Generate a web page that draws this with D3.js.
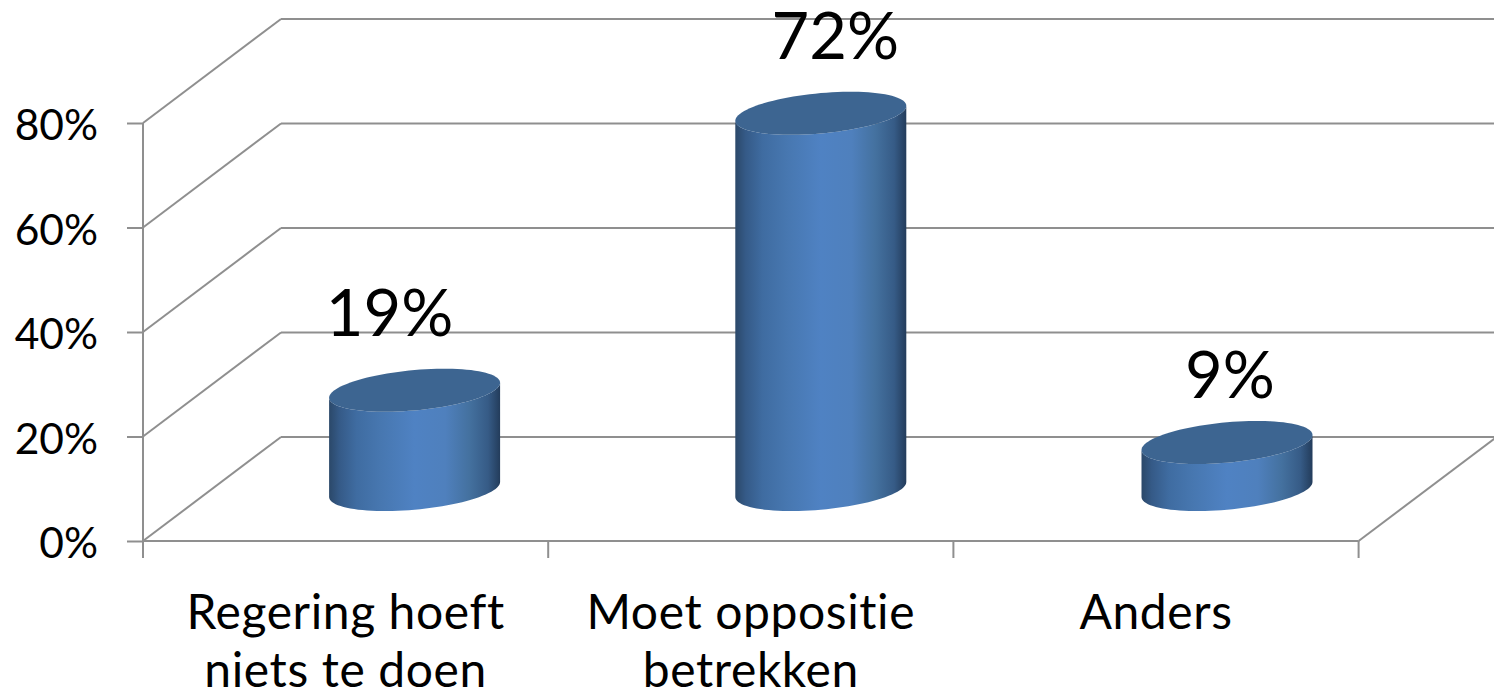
<!DOCTYPE html>
<html>
<head>
<meta charset="utf-8">
<script src="https://cdn.jsdelivr.net/npm/d3@7"></script>
<style>
  html, body { margin: 0; padding: 0; background: #fff; }
  text { font-family: Lato, "Open Sans", sans-serif; fill: #000; font-variant-ligatures: none; }
</style>
</head>
<body>
<div id="chart"></div>
<script>
var categories = [["Regering hoeft", "niets te doen"], ["Moet oppositie", "betrekken"], ["Anders"]];
var values = [19, 72, 9];
var valueLabels = ["19%", "72%", "9%"];
var yTicks = [0, 20, 40, 60, 80];

// data labels were moved by hand in the original
var labelShiftX = [-25, 14.5, 3];
var labelShiftY = [-54, -54, -44.5];

var w = 1494, h = 695;
var depthX = 138, depthY = -104;
var lineColor = "#8f8f8f";

var svg = d3.select("#chart").append("svg")
    .attr("width", w)
    .attr("height", h)
    .style("display", "block");

var x = d3.scaleBand().domain(d3.range(categories.length)).range([143, 1358.6]);
var y = d3.scaleLinear().domain([0, 80]).range([541, 123]);
// cylinders stand on the middle of the floor, spaced a little wider than the bands
var barX = d3.scaleLinear().domain([0, categories.length - 1]).range([414.6, 1227]);

// Gradient for the cylinder sides
var stops = [
    [0, "#2b4869"], [0.06, "#355a87"], [0.16, "#3f6ca1"], [0.3, "#4777b0"],
    [0.5, "#4f82c3"], [0.68, "#4f80bd"], [0.82, "#44719f"], [0.93, "#365b86"], [1, "#233c5b"]
];
svg.append("defs").append("linearGradient")
    .attr("id", "side")
    .attr("x1", 0).attr("x2", 1).attr("y1", 0).attr("y2", 0)
    .selectAll("stop")
    .data(stops)
    .enter()
    .append("stop")
    .attr("offset", function(d) { return d[0]; })
    .attr("stop-color", function(d) { return d[1]; });

// Back wall gridlines and left wall diagonals
var grid = svg.append("g").attr("stroke", lineColor).attr("stroke-width", 2).attr("fill", "none");

grid.selectAll(".back")
    .data(yTicks)
    .enter()
    .append("line")
    .attr("x1", x.range()[0] + depthX)
    .attr("x2", w)
    .attr("y1", function(d) { return y(d) + depthY; })
    .attr("y2", function(d) { return y(d) + depthY; });

grid.selectAll(".side")
    .data(yTicks)
    .enter()
    .append("line")
    .attr("x1", x.range()[0])
    .attr("x2", x.range()[0] + depthX)
    .attr("y1", function(d) { return y(d); })
    .attr("y2", function(d) { return y(d) + depthY; });

// floor, right edge
grid.append("line")
    .attr("x1", x.range()[1]).attr("x2", x.range()[1] + depthX)
    .attr("y1", y(0)).attr("y2", y(0) + depthY);

// x axis line and ticks on the category boundaries
grid.append("line")
    .attr("x1", x.range()[0]).attr("x2", x.range()[1])
    .attr("y1", y(0)).attr("y2", y(0));

grid.selectAll(".xtick")
    .data(d3.range(categories.length + 1))
    .enter()
    .append("line")
    .attr("x1", function(d) { return x.range()[0] + d * x.step(); })
    .attr("x2", function(d) { return x.range()[0] + d * x.step(); })
    .attr("y1", y(0))
    .attr("y2", y(0) + 17);

// y axis
var yAxis = svg.append("g")
    .attr("transform", "translate(" + x.range()[0] + ",0)")
    .call(d3.axisLeft(y).tickValues(yTicks).tickSize(16).tickPadding(29)
        .tickFormat(function(d) { return d + "%"; }));
yAxis.selectAll("line").attr("stroke", lineColor).attr("stroke-width", 2);
yAxis.select(".domain").remove();
yAxis.selectAll("text").style("font-size", "42.5px").attr("dy", "0.39em");
yAxis.append("line")
    .attr("y1", y(80)).attr("y2", y(0))
    .attr("stroke", lineColor).attr("stroke-width", 2);

// Cylinders
var rx = 85.5, tilt = -7.5, ry = 20.2;

function rim(cx, cy, t) {
    return [cx + rx * Math.cos(t), cy + tilt * Math.cos(t) + ry * Math.sin(t)];
}

function cylinderSide(cx, top, bottom) {
    // right edge -> along the lower half of the base -> left edge -> lower half of the top, backwards
    var base = d3.range(0, 49).map(function(i) { return rim(cx, bottom, i / 48 * Math.PI); });
    var cap = d3.range(48, -1, -1).map(function(i) { return rim(cx, top, i / 48 * Math.PI); });
    return d3.line()(base.concat(cap)) + "Z";
}

function cylinderTop(cx, top) {
    return d3.line()(d3.range(0, 96).map(function(i) { return rim(cx, top, i / 96 * 2 * Math.PI); })) + "Z";
}

function barY(d) { return y(d) + depthY / 2 + 0.5; }

var bars = svg.selectAll(".bar")
    .data(values)
    .enter()
    .append("g")
    .attr("class", "bar");

bars.append("path")
    .attr("fill", "url(#side)")
    .attr("d", function(d, i) { return cylinderSide(barX(i), barY(d), barY(0)); });

bars.append("path")
    .attr("fill", "#3d6591")
    .attr("d", function(d, i) { return cylinderTop(barX(i), barY(d)); });

// Data labels
svg.selectAll(".value")
    .data(values)
    .enter()
    .append("text")
    .attr("class", "value")
    .attr("text-anchor", "middle")
    .attr("x", function(d, i) { return barX(i) + labelShiftX[i]; })
    .attr("y", function(d, i) { return barY(d) + labelShiftY[i]; })
    .style("font-size", "65px")
    .text(function(d, i) { return valueLabels[i]; });

// Category labels
var cat = svg.selectAll(".cat")
    .data(categories)
    .enter()
    .append("text")
    .attr("class", "cat")
    .attr("text-anchor", "middle")
    .style("font-size", "48px")
    .style("letter-spacing", "0.6px");

cat.selectAll("tspan")
    .data(function(d, i) { return d.map(function(t) { return { t: t, i: i }; }); })
    .enter()
    .append("tspan")
    .attr("x", function(d) { return x(d.i) + x.bandwidth() / 2; })
    .attr("y", function(d, j) { return 629 + j * 58; })
    .text(function(d) { return d.t; });
</script>
</body>
</html>
